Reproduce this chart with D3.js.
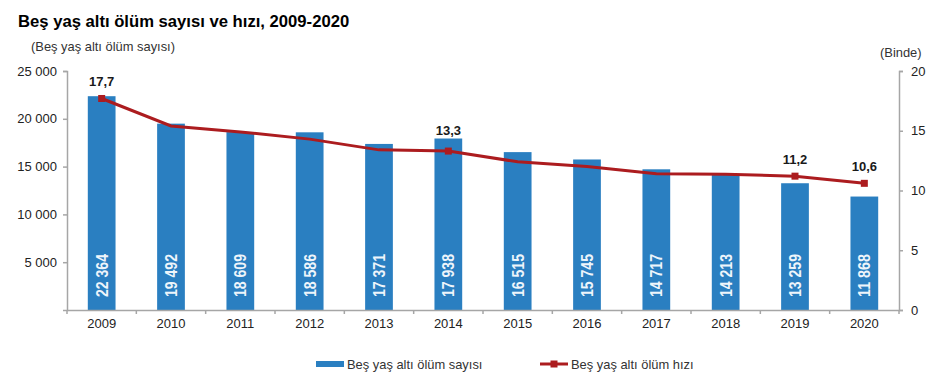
<!DOCTYPE html>
<html lang="tr">
<head>
<meta charset="UTF-8">
<title>Beş yaş altı ölüm sayısı ve hızı</title>
<script src="https://d3js.org/d3.v7.min.js"></script>
<style>
    body { margin: 0; background: #fff; }
    svg { display: block; font-family: "Liberation Sans", Arial, sans-serif; }
</style>
</head>
<body>
<div class="chart"></div>
<script>
    const years = ['2009', '2010', '2011', '2012', '2013', '2014', '2015', '2016', '2017', '2018', '2019', '2020']
    const deaths = [22364, 19492, 18609, 18586, 17371, 17938, 16515, 15745, 14717, 14213, 13259, 11868]
    const rates = [17.7, 15.4, 14.9, 14.3, 13.4, 13.3, 12.4, 12.0, 11.4, 11.35, 11.2, 10.6]
    const leftTicks = [5000, 10000, 15000, 20000, 25000]
    const rightTicks = [0, 5, 10, 15, 20]
    const labelledRates = ['2009', '2014', '2019', '2020']

    const width = 943, height = 387
    const plotLeft = 67, plotRight = 899, plotTop = 71, plotBottom = 310
    const fmt = d => String(d).replace(/\B(?=(\d{3})+$)/g, ' ')

    const svg = d3.select('.chart').append('svg')
        .attr('width', width)
        .attr('height', height)

    const xScale = d3.scaleBand().domain(years).range([plotLeft, plotRight]).paddingInner(0.6).paddingOuter(0.3)
    const bandStep = (plotRight - plotLeft) / years.length
    const yScale = d3.scaleLinear().domain([0, 25000]).range([plotBottom, plotTop])
    const rateScale = d3.scaleLinear().domain([0, 20]).range([plotBottom, plotTop])

    // bars
    svg.append('g').selectAll('rect')
        .data(years)
        .join('rect')
        .attr('x', d => xScale(d))
        .attr('y', (d, i) => yScale(deaths[i]))
        .attr('width', xScale.bandwidth())
        .attr('height', (d, i) => plotBottom - yScale(deaths[i]))
        .attr('fill', '#2a7fc1')

    // values inside the bars
    svg.append('g').selectAll('text')
        .data(years)
        .join('text')
        .attr('transform', d => `translate(${xScale(d) + xScale.bandwidth() / 2 + 6},297) rotate(-90)`)
        .attr('fill', '#eef5fb')
        .attr('font-size', 16)
        .attr('font-weight', 'bold')
        .attr('textLength', 43)
        .attr('lengthAdjust', 'spacingAndGlyphs')
        .text((d, i) => fmt(deaths[i]))

    // axes
    const styleAxis = g => {
        g.selectAll('.domain, .tick line').attr('stroke', '#a6a6a6').attr('stroke-width', 1.5)
        g.selectAll('.tick text').attr('fill', '#222').attr('font-size', 13).attr('font-family', '"Liberation Sans", Arial, sans-serif')
    }

    svg.append('g')
        .attr('transform', `translate(${plotLeft},0)`)
        .call(d3.axisLeft(yScale).tickValues(leftTicks).tickFormat(fmt).tickSize(4).tickPadding(6))
        .call(styleAxis)

    svg.append('g')
        .attr('transform', `translate(${plotRight},0)`)
        .call(d3.axisRight(rateScale).tickValues(rightTicks).tickSize(4).tickPadding(8))
        .call(styleAxis)

    svg.append('g')
        .attr('transform', `translate(0,${plotBottom})`)
        .call(d3.axisBottom(xScale).tickSize(0).tickPadding(9).tickSizeOuter(0))
        .call(styleAxis)

    // tick marks sit between the categories
    svg.append('g').selectAll('line')
        .data(d3.range(years.length + 1))
        .join('line')
        .attr('x1', d => plotLeft + d * bandStep)
        .attr('x2', d => plotLeft + d * bandStep)
        .attr('y1', plotBottom)
        .attr('y2', plotBottom + 4)
        .attr('stroke', '#a6a6a6')
        .attr('stroke-width', 1.5)

    // rate line
    const lineChart = d3.line()
        .x(d => xScale(d) + xScale.bandwidth() / 2)
        .y((d, i) => rateScale(rates[i]))

    svg.append('path')
        .attr('d', lineChart(years))
        .attr('fill', 'none')
        .attr('stroke', '#ac1c1f')
        .attr('stroke-width', 3)

    const markerYears = years.filter(d => labelledRates.includes(d))
    svg.append('g').selectAll('rect')
        .data(markerYears)
        .join('rect')
        .attr('x', d => xScale(d) + xScale.bandwidth() / 2 - 3.5)
        .attr('y', d => rateScale(rates[years.indexOf(d)]) - 3.5)
        .attr('width', 7)
        .attr('height', 7)
        .attr('fill', '#ac1c1f')

    // labels clear both the marker and the top of the bar
    svg.append('g').selectAll('text')
        .data(markerYears)
        .join('text')
        .attr('x', d => xScale(d) + xScale.bandwidth() / 2)
        .attr('y', d => {
            const i = years.indexOf(d)
            return Math.min(rateScale(rates[i]) - 12.5, yScale(deaths[i]) - 4)
        })
        .attr('text-anchor', 'middle')
        .attr('font-size', 13)
        .attr('font-weight', 'bold')
        .attr('fill', '#1a1a1a')
        .text(d => String(rates[years.indexOf(d)]).replace('.', ','))

    // titles
    svg.append('text')
        .attr('x', 18).attr('y', 27)
        .attr('font-size', 16.65)
        .attr('font-weight', 'bold')
        .attr('fill', '#000')
        .text('Beş yaş altı ölüm sayısı ve hızı, 2009-2020')

    svg.append('text')
        .attr('x', 31).attr('y', 51)
        .attr('font-size', 12.9)
        .attr('fill', '#333')
        .text('(Beş yaş altı ölüm sayısı)')

    svg.append('text')
        .attr('x', 880).attr('y', 57)
        .attr('font-size', 12.9)
        .attr('fill', '#333')
        .text('(Binde)')

    // legend
    svg.append('rect')
        .attr('x', 316).attr('y', 361)
        .attr('width', 28).attr('height', 6)
        .attr('fill', '#2a7fc1')
    svg.append('text')
        .attr('x', 347).attr('y', 369)
        .attr('font-size', 12.9)
        .attr('fill', '#333')
        .text('Beş yaş altı ölüm sayısı')

    svg.append('line')
        .attr('x1', 540).attr('x2', 568)
        .attr('y1', 364).attr('y2', 364)
        .attr('stroke', '#ac1c1f')
        .attr('stroke-width', 3)
    svg.append('rect')
        .attr('x', 550.5).attr('y', 360.5)
        .attr('width', 7).attr('height', 7)
        .attr('fill', '#ac1c1f')
    svg.append('text')
        .attr('x', 571).attr('y', 369)
        .attr('font-size', 12.9)
        .attr('fill', '#333')
        .text('Beş yaş altı ölüm hızı')
</script>
</body>
</html>
